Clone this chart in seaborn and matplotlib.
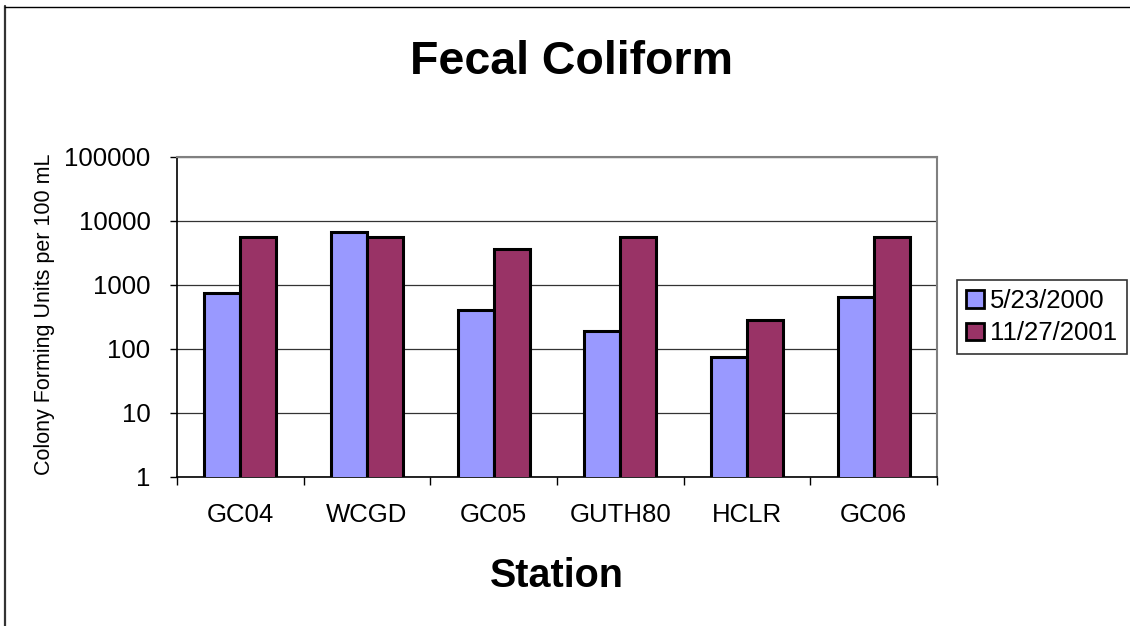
import matplotlib
matplotlib.use("Agg")
import matplotlib.pyplot as plt
from matplotlib.patches import Patch
from matplotlib.lines import Line2D
import pandas as pd
import seaborn as sns

# data
stations = ["GC04", "WCGD", "GC05", "GUTH80", "HCLR", "GC06"]
dates = ["5/23/2000", "11/27/2001"]
cfu_2000 = [760, 6800, 410, 190, 76, 660]
cfu_2001 = [5600, 5600, 3700, 5600, 280, 5600]
colors = ["#9999FF", "#993366"]

df = pd.DataFrame({
    "Station": stations * 2,
    "Date": [dates[0]] * len(stations) + [dates[1]] * len(stations),
    "CFU": cfu_2000 + cfu_2001,
})

sns.set_style("white")
plt.rcParams["font.family"] = ["Liberation Sans", "DejaVu Sans"]
plt.rcParams["text.color"] = "black"
plt.rcParams["xtick.color"] = "black"
plt.rcParams["ytick.color"] = "black"

fig = plt.figure(figsize=(11.3, 6.26), dpi=100)
ax = fig.add_axes([177 / 1130, 1 - 477 / 626, 760 / 1130, 320 / 626])

sns.barplot(data=df, x="Station", y="CFU", hue="Date", order=stations,
            hue_order=dates, palette=colors, width=0.57, gap=0,
            edgecolor="black", linewidth=2.2, saturation=1, ax=ax,
            legend=False, zorder=3)

ax.set_yscale("log")
ax.set_ylim(1, 100000)
ax.set_yticks([1, 10, 100, 1000, 10000, 100000])
ax.set_yticklabels(["1", "10", "100", "1000", "10000", "100000"])
ax.minorticks_off()
ax.yaxis.grid(True, color="#333333", linewidth=0.9, zorder=0)
ax.set_axisbelow(True)

# category ticks sit between groups, labels in the middle
ax.set_xlim(-0.5, len(stations) - 0.5)
ax.set_xticks([i - 0.5 for i in range(len(stations) + 1)])
ax.set_xticklabels([])
ax.set_xticks(range(len(stations)), minor=True)
ax.set_xticklabels(stations, minor=True)
ax.tick_params(axis="x", which="major", direction="out", length=6,
               width=1, color="black", bottom=True)
ax.tick_params(axis="x", which="minor", length=0, pad=19, labelsize=18.5,
               labelcolor="black")
ax.tick_params(axis="y", direction="out", length=5, width=1, color="black",
               left=True, pad=14, labelsize=18.5, labelcolor="black")
ax.set_xlabel("")
ax.set_ylabel("")

for side in ["left", "bottom"]:
    ax.spines[side].set_color("black")
    ax.spines[side].set_linewidth(1.2)
for side in ["top", "right"]:
    ax.spines[side].set_color("#808080")
    ax.spines[side].set_linewidth(1.5)

fig.text(572 / 1130, 1 - 74 / 626, "Fecal Coliform", fontsize=33.5,
         fontweight="bold", ha="center", va="baseline", color="black")
fig.text(557 / 1130, 1 - 587 / 626, "Station", fontsize=28.5,
         fontweight="bold", ha="center", va="baseline", color="black")
fig.text(45 / 1130, 1 - 314 / 626, "Colony Forming Units per 100 mL",
         fontsize=15.5, rotation=90, ha="center", va="center", color="black")

handles = [Patch(facecolor=c, edgecolor="black", linewidth=2) for c in colors]
leg = fig.legend(handles, dates, loc="center left",
                 bbox_to_anchor=(957 / 1130, 1 - 317 / 626),
                 fontsize=18.5, frameon=True, fancybox=False, shadow=False,
                 handlelength=0.7, handleheight=0.7, handletextpad=0.25,
                 labelspacing=0.35, borderpad=0.35, borderaxespad=0)
leg.get_frame().set_edgecolor("black")
leg.get_frame().set_linewidth(1.2)

# chart area border (only left and top edges show)
fig.add_artist(Line2D([4.5 / 1130, 4.5 / 1130], [0, 1 - 6 / 626],
                      transform=fig.transFigure, color="#333333", linewidth=1.6))
fig.add_artist(Line2D([4.5 / 1130, 1], [1 - 6.5 / 626, 1 - 6.5 / 626],
                      transform=fig.transFigure, color="black", linewidth=1))

fig.savefig("out.png", dpi=100)
